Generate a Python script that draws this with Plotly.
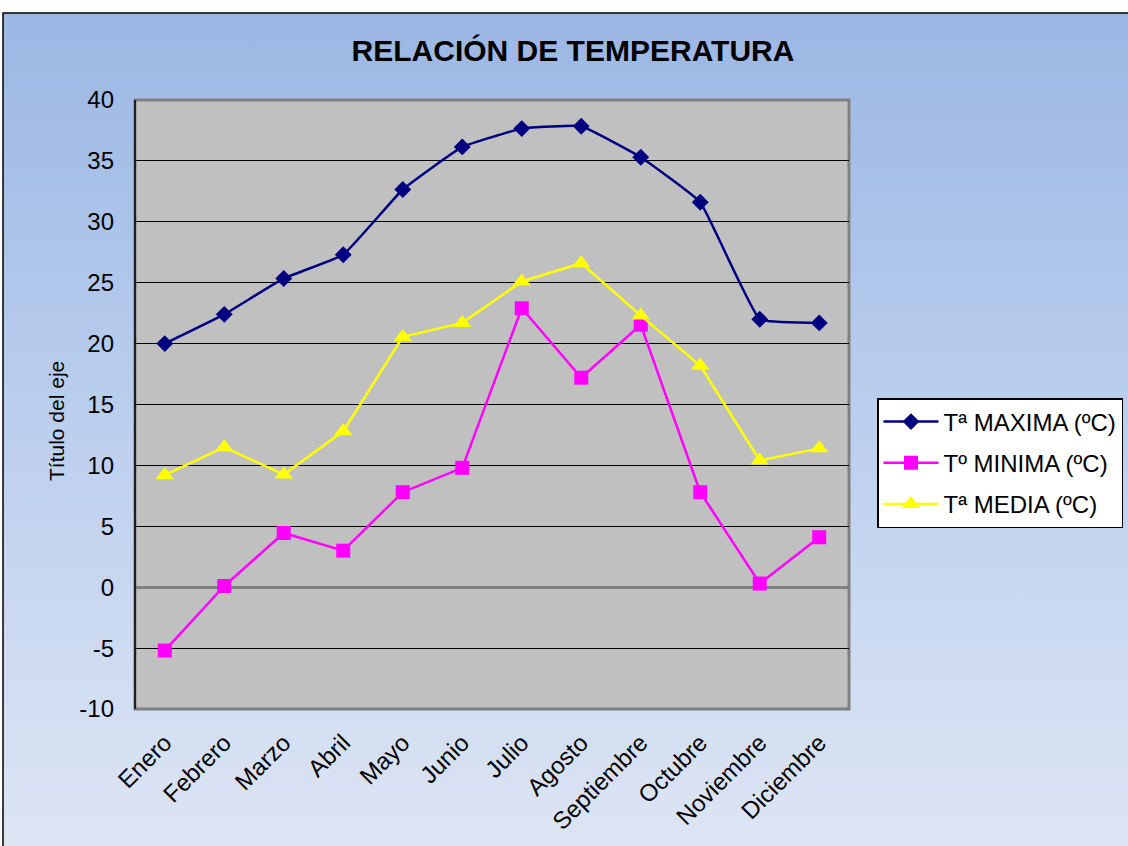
import base64
import plotly.graph_objects as go

meses = ["Enero", "Febrero", "Marzo", "Abril", "Mayo", "Junio", "Julio",
         "Agosto", "Septiembre", "Octubre", "Noviembre", "Diciembre"]
t_max = [20.0, 22.4, 25.35, 27.3, 32.65, 36.15, 37.65, 37.85, 35.3, 31.6, 22.0, 21.7]
t_min = [-5.2, 0.1, 4.45, 3.0, 7.8, 9.8, 22.9, 17.2, 21.55, 7.8, 0.3, 4.1]
t_med = [9.2, 11.5, 9.25, 12.8, 20.55, 21.7, 25.1, 26.6, 22.3, 18.2, 10.4, 11.4]
y_ticks = [-10, -5, 0, 5, 10, 15, 20, 25, 30, 35, 40]
y_tick_labels = ["-10", "-5", "0", "5", "10", "15", "20", "25", "30", "35", "40"]

FONT = "Liberation Sans, Arial, sans-serif"

W, H = 1128, 846
L, R, T, B = 135, 279, 100, 137
pw, ph = W - L - R, H - T - B

def px_x(p):
    return (p - L) / pw

def px_y(p):
    return (H - B - p) / ph

svg = (
    '<svg xmlns="http://www.w3.org/2000/svg" width="100" height="100" preserveAspectRatio="none">'
    '<defs><linearGradient id="g" x1="0" y1="0" x2="0" y2="1">'
    '<stop offset="0" stop-color="#9bb7e4"/>'
    '<stop offset="0.5" stop-color="#bccfee"/>'
    '<stop offset="1" stop-color="#dde5f4"/>'
    '</linearGradient></defs>'
    '<rect x="0" y="0" width="100" height="100" fill="url(#g)"/></svg>'
)
src = "data:image/svg+xml;base64," + base64.b64encode(svg.encode()).decode()

fig = go.Figure()
fig.add_trace(go.Scatter(
    x=meses, y=t_max, name="Tª MAXIMA (ºC)", mode="lines+markers", legendgroup="a",
    line=dict(color="#000080", width=2.5, shape="spline", smoothing=0.3),
    marker=dict(symbol="diamond", size=13, color="#000080"),
))
fig.add_trace(go.Scatter(
    x=meses, y=t_min, name="Tº MINIMA (ºC)", mode="lines+markers", legendgroup="b",
    line=dict(color="#ff00ff", width=2.5),
    marker=dict(symbol="square", size=14, color="#ff00ff"),
))
fig.add_trace(go.Scatter(
    x=meses, y=t_med, name="Tª MEDIA (ºC)", mode="lines+markers", legendgroup="c",
    line=dict(color="#ffff00", width=2.5),
    marker=dict(symbol="triangle-up", size=16, color="#ffff00"),
))

shapes = [
    dict(type="rect", xref="paper", yref="paper", layer="below",
         x0=px_x(3), x1=px_x(1140), y0=px_y(860), y1=px_y(13),
         line=dict(color="black", width=1.5), fillcolor="rgba(0,0,0,0)"),
    dict(type="rect", xref="x domain", yref="y domain", layer="below",
         x0=0, x1=1, y0=0, y1=1,
         line=dict(color="#808080", width=3), fillcolor="#c0c0c0"),
    dict(type="line", xref="x domain", yref="y domain", layer="above",
         x0=0, x1=0, y0=0, y1=1, line=dict(color="black", width=1.5)),
]

fig.update_layout(
    width=W, height=H,
    margin=dict(l=L, r=R, t=T, b=B, autoexpand=False),
    paper_bgcolor="white",
    plot_bgcolor="rgba(0,0,0,0)",
    font=dict(family=FONT, color="black"),
    images=[dict(source=src, xref="paper", yref="paper", layer="below",
                 x=px_x(3), y=px_y(13), xanchor="left", yanchor="top",
                 sizex=px_x(W) - px_x(3), sizey=px_y(13) - px_y(H),
                 sizing="stretch")],
    shapes=shapes,
    title=dict(text="<b>RELACIÓN DE TEMPERATURA</b>", x=573 / W, xref="container",
               xanchor="center", y=1 - 50 / H, yref="container", yanchor="middle",
               font=dict(family=FONT, size=30, color="black")),
    xaxis=dict(
        range=[-0.5, 11.5], showgrid=False, zeroline=False, showline=False,
        tickangle=-45, tickfont=dict(size=24, family=FONT), ticks="",
        ticklabelstandoff=14,
    ),
    yaxis=dict(
        range=[-10, 40], tickvals=y_ticks, ticktext=y_tick_labels,
        showgrid=True, gridcolor="black", gridwidth=1,
        zeroline=True, zerolinecolor="#808080", zerolinewidth=2.5,
        showline=False, ticks="", tickfont=dict(size=24, family=FONT),
        ticklabelstandoff=20,
    ),
    annotations=[dict(text="Título del eje", xref="paper", yref="paper",
                      x=px_x(56), y=px_y(421), xanchor="center", yanchor="middle",
                      textangle=-90, showarrow=False,
                      font=dict(size=21, family=FONT, color="black"))],
    legend=dict(
        x=px_x(877), y=px_y(398), xanchor="left", yanchor="top",
        bgcolor="white", bordercolor="black", borderwidth=1.5,
        font=dict(size=24, family=FONT, color="black"), itemwidth=55,
        tracegroupgap=7, traceorder="grouped",
    ),
    showlegend=True,
)

fig.write_html("out.html", config={"displayModeBar": False},
               post_script="document.body.style.margin='0px';")
